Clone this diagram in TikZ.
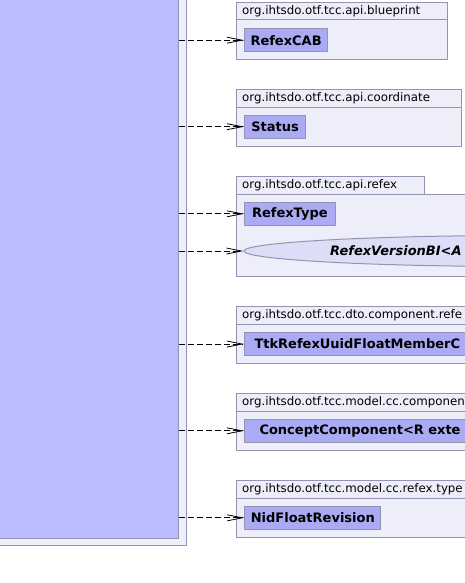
\documentclass[tikz,border=0pt]{standalone}
\usepackage{fontspec}
\setmainfont{DejaVu Sans}
\usetikzlibrary{arrows.meta,shapes.geometric}
\definecolor{outerfill}{HTML}{EEEEFF}
\definecolor{innerfill}{HTML}{BBBBFF}
\definecolor{pkgfill}{HTML}{EEEEFA}
\definecolor{classfill}{HTML}{AAAAF5}
\definecolor{ifacefill}{HTML}{DDDDF8}
\definecolor{edgegray}{HTML}{9494B0}
\begin{document}
\begin{tikzpicture}[x=1pt,y=-1pt,
  pkg/.style={draw=edgegray, fill=pkgfill, line width=1pt},
  pkgrule/.style={draw=edgegray, line width=1pt},
  pkgname/.style={anchor=west, inner sep=0pt, font=\fontsize{11.8}{13}\selectfont},
  cls/.style={draw=edgegray, fill=classfill, line width=1pt, anchor=west,
    inner xsep=6pt, inner ysep=0pt, minimum height=23pt,
    font=\bfseries\fontsize{13}{15}\selectfont},
  iface/.style={ellipse, draw=edgegray, fill=ifacefill, line width=1pt,
    minimum width=560pt, minimum height=31pt, inner sep=0pt},
  dep/.style={draw=black, line width=0.8pt, dash pattern=on 6pt off 3pt,
    -{Straight Barb[length=15pt,width=6pt,line width=0.8pt]}}]
\useasboundingbox (0,0) rectangle (465,583);

% the outer container and its depending class
\draw[fill=outerfill, draw=edgegray, line width=1pt] (-10,-10) rectangle (186.5,545.5);
\node[draw=edgegray, fill=innerfill, line width=1pt, anchor=north east,
  minimum width=200pt, minimum height=547.5pt, inner sep=0pt] (src) at (178.5,-10) {};

% org.ihtsdo.otf.tcc.api.blueprint
\draw[pkg] (236,2.5) rectangle (447,59.5);
\draw[pkgrule] (236,20) -- (447,20);
\node[pkgname] (p1) at (242,11.3) {org.ihtsdo.otf.tcc.api.blueprint};
\node[cls, minimum width=82.7pt] (c1) at (244,40.2) {RefexCAB};

% org.ihtsdo.otf.tcc.api.coordinate
\draw[pkg] (236,89.3) rectangle (461.5,146);
\draw[pkgrule] (236,107.3) -- (461.5,107.3);
\node[pkgname] (p2) at (242,98.3) {org.ihtsdo.otf.tcc.api.coordinate};
\node[cls, minimum width=61.3pt] (c2) at (244,126.7) {Status};

% org.ihtsdo.otf.tcc.api.refex
\draw[pkg] (236,176) rectangle (424.3,194);
\draw[pkg] (236,194) rectangle (480,276);
\node[pkgname] (p3) at (242,185) {org.ihtsdo.otf.tcc.api.refex};
\node[cls, minimum width=90.7pt] (c3) at (244,213.8) {RefexType};
\node[iface] (i1) at (524,251) {};
\node[anchor=west, inner sep=0pt, font=\bfseries\itshape\fontsize{13}{15}\selectfont]
  (i1name) at (330,251) {RefexVersionBI<A};

% org.ihtsdo.otf.tcc.dto.component.refe...
\draw[pkg] (236,306.7) rectangle (480,363.3);
\draw[pkgrule] (236,324.3) -- (480,324.3);
\node[pkgname] (p4) at (242,315.5) {org.ihtsdo.otf.tcc.dto.component.refe};
\node[cls, text width=240pt, align=left, inner xsep=10pt] (c4) at (244,344) {TtkRefexUuidFloatMemberC};

% org.ihtsdo.otf.tcc.model.cc.componen...
\draw[pkg] (236,393.3) rectangle (480,450.3);
\draw[pkgrule] (236,411.3) -- (480,411.3);
\node[pkgname] (p5) at (242,402.3) {org.ihtsdo.otf.tcc.model.cc.componen};
\node[cls, text width=240pt, align=left, inner xsep=15pt] (c5) at (244,430.8) {ConceptComponent<R exte};

% org.ihtsdo.otf.tcc.model.cc.refex.type...
\draw[pkg] (236,480.7) rectangle (480,537.3);
\draw[pkgrule] (236,498.7) -- (480,498.7);
\node[pkgname] (p6) at (242,489.7) {org.ihtsdo.otf.tcc.model.cc.refex.type};
\node[cls, minimum width=136pt] (c6) at (244.3,517.8) {NidFloatRevision};

% dependencies
\foreach \t in {c1,c2,c3,i1,c4,c5,c6}
  \draw[dep] (src.east |- \t.west) -- (\t.west);
\end{tikzpicture}
\end{document}
